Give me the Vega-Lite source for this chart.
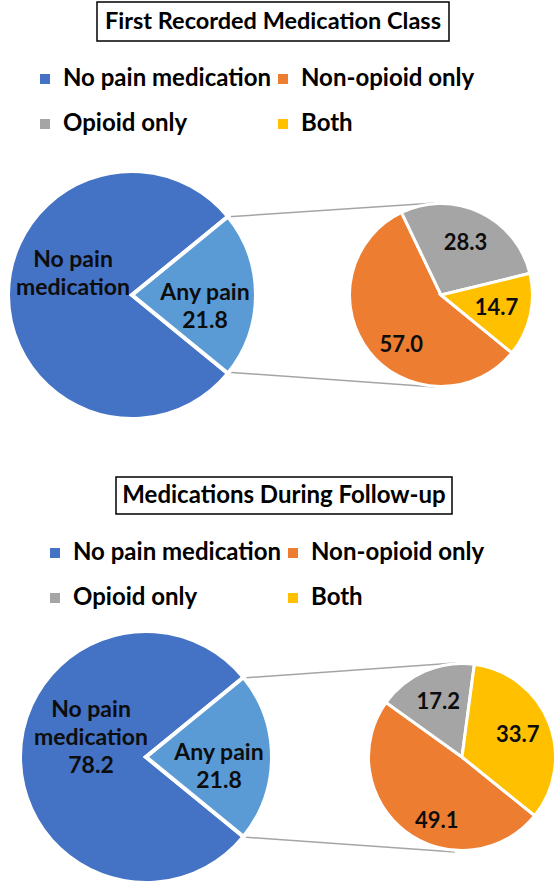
{
  "$schema": "https://vega.github.io/schema/vega-lite/v6.json",
  "padding": 0,
  "spacing": 0,
  "background": "white",
  "config": {"view": {"stroke": null}, "axis": {"disable": true}, "font": "Lato"},
  "datasets": {
    "first_overall": [
      {"category": "No pain medication", "pct": 78.2, "label": "No pain\nmedication"},
      {"category": "Any pain", "pct": 21.8, "label": "Any pain\n21.8"}
    ],
    "first_any": [
      {"category": "Non-opioid only", "pct": 57.0},
      {"category": "Opioid only", "pct": 28.3},
      {"category": "Both", "pct": 14.7}
    ],
    "followup_overall": [
      {"category": "No pain medication", "pct": 78.2, "label": "No pain\nmedication\n78.2"},
      {"category": "Any pain", "pct": 21.8, "label": "Any pain\n21.8"}
    ],
    "followup_any": [
      {"category": "Non-opioid only", "pct": 49.1},
      {"category": "Opioid only", "pct": 17.2},
      {"category": "Both", "pct": 33.7}
    ]
  },
  "vconcat": [
    {
      "width": 556,
      "height": 443,
      "layer": [
        {
          "data": {"values": [{}]},
          "layer": [
            {
              "mark": {"type": "rect", "filled": false, "stroke": "#000000", "strokeWidth": 1.5},
              "encoding": {
                "x": {"datum": 92, "type": "quantitative", "scale": {"domain": [0, 556], "nice": false, "zero": false}, "axis": null},
                "x2": {"datum": 444},
                "y": {"datum": 2, "type": "quantitative", "scale": {"domain": [0, 443], "nice": false, "zero": false, "reverse": true}, "axis": null},
                "y2": {"datum": 41}
              }
            },
            {
              "mark": {"type": "text", "font": "Lato", "fontWeight": "bold", "fontSize": 23.5, "color": "#000000", "align": "center", "baseline": "middle"},
              "encoding": {
                "x": {"datum": 268, "type": "quantitative", "axis": null},
                "y": {"datum": 22, "type": "quantitative", "axis": null},
                "text": {"value": "First Recorded Medication Class"}
              }
            },
            {
              "mark": {"type": "rule", "color": "#a5a5a5", "strokeWidth": 1.5},
              "encoding": {
                "x": {"datum": 220, "type": "quantitative", "axis": null},
                "y": {"datum": 217, "type": "quantitative", "axis": null},
                "x2": {"datum": 430},
                "y2": {"datum": 203}
              }
            },
            {
              "mark": {"type": "rule", "color": "#a5a5a5", "strokeWidth": 1.5},
              "encoding": {
                "x": {"datum": 220, "type": "quantitative", "axis": null},
                "y": {"datum": 372, "type": "quantitative", "axis": null},
                "x2": {"datum": 430},
                "y2": {"datum": 387}
              }
            }
          ]
        },
        {
          "layer": [
            {
              "data": {"name": "first_overall"},
              "encoding": {
                "x": {"datum": "All patients", "type": "nominal", "scale": {"type": "point", "domain": ["All patients", "Any pain"], "range": [127, 436], "padding": 0}, "axis": null},
                "y": {"datum": "pies", "type": "nominal", "scale": {"type": "point", "domain": ["pies"], "range": [295, 295], "padding": 0}, "axis": null},
                "theta": {"field": "pct", "type": "quantitative", "stack": true, "scale": {"domain": [0, 100], "range": [0.8859, 7.1691]}},
                "order": {"field": "category", "type": "nominal", "sort": "ascending"},
                "detail": {"field": "category", "type": "nominal"}
              },
              "layer": [
                {
                  "mark": {"type": "arc", "outerRadius": 124, "stroke": "white", "strokeWidth": 4},
                  "encoding": {
                    "color": {
                      "field": "category", "type": "nominal",
                      "scale": {"domain": ["No pain medication", "Non-opioid only", "Opioid only", "Both", "Any pain"], "range": ["#4472C4", "#ED7D31", "#A5A5A5", "#FFC000", "#5B9BD5"]},
                      "legend": {
                        "title": null, "orient": "none", "legendX": 28, "legendY": 67, "columns": 2, "padding": 0,
                        "values": ["No pain medication", "Opioid only", "Non-opioid only", "Both"],
                        "symbolType": "square", "symbolSize": 100, "symbolStrokeWidth": 0,
                        "labelFont": "Lato", "labelFontWeight": "bold", "labelFontSize": 24, "labelColor": "#000000",
                        "labelOffset": 6, "labelLimit": 400, "columnPadding": -8, "rowPadding": 21
                      }
                    }
                  }
                },
                {
                  "mark": {"type": "text", "radius": 66, "dx": 7, "dy": -35, "font": "Lato", "fontWeight": "bold", "fontSize": 23, "lineBreak": "\n", "lineHeight": 28, "color": "#0d0d0d"},
                  "encoding": {"text": {"condition": {"test": "datum.category === 'No pain medication'", "field": "label", "type": "nominal"}, "value": ""}}
                },
                {
                  "mark": {"type": "text", "radius": 66, "dx": 7, "dy": -2, "font": "Lato", "fontWeight": "bold", "fontSize": 23, "lineBreak": "\n", "lineHeight": 28, "color": "#0d0d0d"},
                  "encoding": {"text": {"condition": {"test": "datum.category === 'Any pain'", "field": "label", "type": "nominal"}, "value": ""}}
                }
              ]
            },
            {
              "data": {"name": "first_any"},
              "encoding": {
                "x": {"datum": "Any pain", "type": "nominal", "scale": {"type": "point", "domain": ["All patients", "Any pain"], "range": [127, 436], "padding": 0}, "axis": null},
                "y": {"datum": "pies", "type": "nominal", "scale": {"type": "point", "domain": ["pies"], "range": [295, 295], "padding": 0}, "axis": null},
                "theta": {"field": "pct", "type": "quantitative", "stack": true, "scale": {"domain": [0, 100], "range": [1.3317, 7.6149]}},
                "order": {"field": "category", "type": "nominal", "sort": "ascending"},
                "detail": {"field": "category", "type": "nominal"}
              },
              "layer": [
                {
                  "mark": {"type": "arc", "outerRadius": 91.5, "stroke": "white", "strokeWidth": 3},
                  "encoding": {
                    "color": {
                      "field": "category", "type": "nominal",
                      "scale": {"domain": ["No pain medication", "Non-opioid only", "Opioid only", "Both", "Any pain"], "range": ["#4472C4", "#ED7D31", "#A5A5A5", "#FFC000", "#5B9BD5"]}
                    }
                  }
                },
                {
                  "mark": {"type": "text", "radius": 57, "font": "Lato", "fontWeight": "bold", "fontSize": 22, "color": "#0d0d0d"},
                  "encoding": {"text": {"condition": {"test": "datum.category !== 'Non-opioid only'", "field": "pct", "type": "quantitative", "format": ".1f"}, "value": ""}}
                },
                {
                  "mark": {"type": "text", "radius": 57, "dx": 5, "dy": 15, "font": "Lato", "fontWeight": "bold", "fontSize": 22, "color": "#0d0d0d"},
                  "encoding": {"text": {"condition": {"test": "datum.category === 'Non-opioid only'", "field": "pct", "type": "quantitative", "format": ".1f"}, "value": ""}}
                }
              ]
            }
          ],
          "resolve": {"scale": {"theta": "independent"}}
        }
      ],
      "resolve": {"scale": {"x": "independent", "y": "independent"}}
    },
    {
      "width": 556,
      "height": 443,
      "layer": [
        {
          "data": {"values": [{}]},
          "layer": [
            {
              "mark": {"type": "rect", "filled": false, "stroke": "#000000", "strokeWidth": 1.5},
              "encoding": {
                "x": {"datum": 111, "type": "quantitative", "scale": {"domain": [0, 556], "nice": false, "zero": false}, "axis": null},
                "x2": {"datum": 447},
                "y": {"datum": 34, "type": "quantitative", "scale": {"domain": [0, 443], "nice": false, "zero": false, "reverse": true}, "axis": null},
                "y2": {"datum": 71}
              }
            },
            {
              "mark": {"type": "text", "font": "Lato", "fontWeight": "bold", "fontSize": 24, "color": "#000000", "align": "center", "baseline": "middle"},
              "encoding": {
                "x": {"datum": 279, "type": "quantitative", "axis": null},
                "y": {"datum": 53, "type": "quantitative", "axis": null},
                "text": {"value": "Medications During Follow-up"}
              }
            },
            {
              "mark": {"type": "rule", "color": "#a5a5a5", "strokeWidth": 1.5},
              "encoding": {
                "x": {"datum": 238, "type": "quantitative", "axis": null},
                "y": {"datum": 235, "type": "quantitative", "axis": null},
                "x2": {"datum": 450},
                "y2": {"datum": 220}
              }
            },
            {
              "mark": {"type": "rule", "color": "#a5a5a5", "strokeWidth": 1.5},
              "encoding": {
                "x": {"datum": 238, "type": "quantitative", "axis": null},
                "y": {"datum": 394, "type": "quantitative", "axis": null},
                "x2": {"datum": 450},
                "y2": {"datum": 409}
              }
            }
          ]
        },
        {
          "layer": [
            {
              "data": {"name": "followup_overall"},
              "encoding": {
                "x": {"datum": "All patients", "type": "nominal", "scale": {"type": "point", "domain": ["All patients", "Any pain"], "range": [141, 457], "padding": 0}, "axis": null},
                "y": {"datum": "pies", "type": "nominal", "scale": {"type": "point", "domain": ["pies"], "range": [314, 314], "padding": 0}, "axis": null},
                "theta": {"field": "pct", "type": "quantitative", "stack": true, "scale": {"domain": [0, 100], "range": [0.8859, 7.1691]}},
                "order": {"field": "category", "type": "nominal", "sort": "ascending"},
                "detail": {"field": "category", "type": "nominal"}
              },
              "layer": [
                {
                  "mark": {"type": "arc", "outerRadius": 126, "stroke": "white", "strokeWidth": 4},
                  "encoding": {
                    "color": {
                      "field": "category", "type": "nominal",
                      "scale": {"domain": ["No pain medication", "Non-opioid only", "Opioid only", "Both", "Any pain"], "range": ["#4472C4", "#ED7D31", "#A5A5A5", "#FFC000", "#5B9BD5"]},
                      "legend": {
                        "title": null, "orient": "none", "legendX": 38, "legendY": 98, "columns": 2, "padding": 0,
                        "values": ["No pain medication", "Opioid only", "Non-opioid only", "Both"],
                        "symbolType": "square", "symbolSize": 100, "symbolStrokeWidth": 0,
                        "labelFont": "Lato", "labelFontWeight": "bold", "labelFontSize": 24, "labelColor": "#000000",
                        "labelOffset": 6, "labelLimit": 400, "columnPadding": -4, "rowPadding": 21
                      }
                    }
                  }
                },
                {
                  "mark": {"type": "text", "radius": 64, "dx": 9, "dy": -47, "font": "Lato", "fontWeight": "bold", "fontSize": 23, "lineBreak": "\n", "lineHeight": 28, "color": "#0d0d0d"},
                  "encoding": {"text": {"condition": {"test": "datum.category === 'No pain medication'", "field": "label", "type": "nominal"}, "value": ""}}
                },
                {
                  "mark": {"type": "text", "radius": 64, "dx": 9, "dy": -4, "font": "Lato", "fontWeight": "bold", "fontSize": 23, "lineBreak": "\n", "lineHeight": 28, "color": "#0d0d0d"},
                  "encoding": {"text": {"condition": {"test": "datum.category === 'Any pain'", "field": "label", "type": "nominal"}, "value": ""}}
                }
              ]
            },
            {
              "data": {"name": "followup_any"},
              "encoding": {
                "x": {"datum": "Any pain", "type": "nominal", "scale": {"type": "point", "domain": ["All patients", "Any pain"], "range": [141, 457], "padding": 0}, "axis": null},
                "y": {"datum": "pies", "type": "nominal", "scale": {"type": "point", "domain": ["pies"], "range": [314, 314], "padding": 0}, "axis": null},
                "theta": {"field": "pct", "type": "quantitative", "stack": true, "scale": {"domain": [0, 100], "range": [0.1326, 6.4158]}},
                "order": {"field": "category", "type": "nominal", "sort": "ascending"},
                "detail": {"field": "category", "type": "nominal"}
              },
              "layer": [
                {
                  "mark": {"type": "arc", "outerRadius": 93.5, "stroke": "white", "strokeWidth": 3},
                  "encoding": {
                    "color": {
                      "field": "category", "type": "nominal",
                      "scale": {"domain": ["No pain medication", "Non-opioid only", "Opioid only", "Both", "Any pain"], "range": ["#4472C4", "#ED7D31", "#A5A5A5", "#FFC000", "#5B9BD5"]}
                    }
                  }
                },
                {
                  "mark": {"type": "text", "radius": 60, "font": "Lato", "fontWeight": "bold", "fontSize": 22, "color": "#0d0d0d"},
                  "encoding": {"text": {"condition": {"test": "datum.category !== 'Non-opioid only'", "field": "pct", "type": "quantitative", "format": ".1f"}, "value": ""}}
                },
                {
                  "mark": {"type": "text", "radius": 60, "dx": 11, "dy": 16, "font": "Lato", "fontWeight": "bold", "fontSize": 22, "color": "#0d0d0d"},
                  "encoding": {"text": {"condition": {"test": "datum.category === 'Non-opioid only'", "field": "pct", "type": "quantitative", "format": ".1f"}, "value": ""}}
                }
              ]
            }
          ],
          "resolve": {"scale": {"theta": "independent"}}
        }
      ],
      "resolve": {"scale": {"x": "independent", "y": "independent"}}
    }
  ],
  "resolve": {"scale": {"color": "independent"}}
}
